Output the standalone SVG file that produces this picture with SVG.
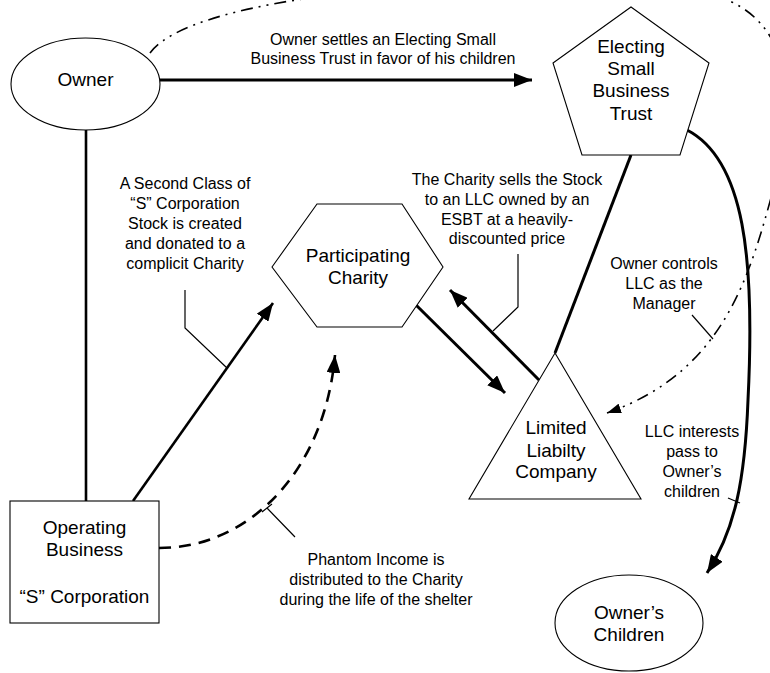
<svg xmlns="http://www.w3.org/2000/svg" width="770" height="673" viewBox="0 0 770 673">
<style>
.shape{fill:#fff;stroke:#000;stroke-width:1.1}
.node{font-family:"Liberation Sans",Arial,sans-serif;font-size:19px;fill:#000;text-anchor:middle}
.lbl{font-family:"Liberation Sans",Arial,sans-serif;font-size:16px;fill:#000;text-anchor:middle}
.thick{fill:none;stroke:#000;stroke-width:3}
.med{fill:none;stroke:#000;stroke-width:2.6}
.thin{fill:none;stroke:#000;stroke-width:1.2}
.dash{fill:none;stroke:#000;stroke-width:2.6;stroke-dasharray:12 8}
.dashdot{fill:none;stroke:#000;stroke-width:1.6;stroke-dasharray:12 6 2 6 2 6}
</style>
<defs>
<marker id="ah" markerUnits="userSpaceOnUse" markerWidth="20" markerHeight="14" refX="18" refY="7" orient="auto">
<path d="M0,0 L18,7 L0,14 z" fill="#000"/>
</marker>
<marker id="ahs" markerUnits="userSpaceOnUse" markerWidth="16" markerHeight="10" refX="14" refY="5" orient="auto">
<path d="M0,0 L14,5 L0,10 z" fill="#000"/>
</marker>
</defs>
<rect width="770" height="673" fill="#fff"/>
<g id="connectors">
<path class="thick" d="M160,80 L532,80" marker-end="url(#ah)"/>
<path class="med" d="M86,130 L86,501"/>
<path class="med" d="M133,501 L273,303" marker-end="url(#ah)"/>
<path class="dash" d="M159,548 C250,548 325,470 335,355" marker-end="url(#ah)"/>
<path class="thick" d="M416,305 L505,393" marker-end="url(#ah)"/>
<path class="thick" d="M539,380 L450,290" marker-end="url(#ah)"/>
<path class="thick" d="M631,155 L555,353"/>
<path class="thick" d="M687,130 C745,160 755,260 748,400 C745,480 735,530 707,573" marker-end="url(#ah)"/>
<path class="dashdot" d="M150,53 C200,-15 560,-30 700,-8 C790,8 800,95 776,180 C752,265 730,370 607,413" marker-end="url(#ahs)"/>
<polyline class="thin" points="185,290 185,328 227,368"/>
<polyline class="thin" points="518,254 518,307 493,331"/>
<path class="thin" d="M267,508 L295,537 M262,512 L272,504"/>
<path class="thin" d="M692,315 L713,339"/>
<path class="thin" d="M728,498 L740,503"/>
</g>
<g id="owner">
<ellipse class="shape" cx="85.5" cy="84" rx="74.5" ry="46"/>
<text class="node" x="85.5" y="86">Owner</text>
</g>
<g id="esbt">
<polygon class="shape" points="631,7 709,63 680,155 582,155 553,63"/>
<text class="node" x="631" y="53">Electing</text>
<text class="node" x="631" y="75">Small</text>
<text class="node" x="631" y="97">Business</text>
<text class="node" x="631" y="120">Trust</text>
</g>
<g id="charity">
<polygon class="shape" points="272,267 317,204 402,204 443,267 402,327 317,327"/>
<text class="node" x="358" y="262">Participating</text>
<text class="node" x="358" y="284">Charity</text>
</g>
<g id="llc">
<polygon class="shape" points="555,353 641,499 469,499"/>
<text class="node" x="556" y="434">Limited</text>
<text class="node" x="556" y="457">Liabilty</text>
<text class="node" x="556" y="478">Company</text>
</g>
<g id="operating">
<rect class="shape" x="10" y="501" width="149" height="122"/>
<text class="node" x="84.5" y="534">Operating</text>
<text class="node" x="84.5" y="556">Business</text>
<text class="node" x="84.5" y="603">“S” Corporation</text>
</g>
<g id="children">
<ellipse class="shape" cx="629" cy="623" rx="74" ry="48"/>
<text class="node" x="629" y="619">Owner’s</text>
<text class="node" x="629" y="641">Children</text>
</g>
<g id="labels">
<text class="lbl" x="383" y="45">Owner settles an Electing Small</text>
<text class="lbl" x="383" y="64">Business Trust in favor of his children</text>
<text class="lbl" x="185" y="189">A Second Class of</text>
<text class="lbl" x="185" y="209">“S” Corporation</text>
<text class="lbl" x="185" y="229">Stock is created</text>
<text class="lbl" x="185" y="249">and donated to a</text>
<text class="lbl" x="185" y="269">complicit Charity</text>
<text class="lbl" x="507" y="185">The Charity sells the Stock</text>
<text class="lbl" x="507" y="205">to an LLC owned by an</text>
<text class="lbl" x="507" y="225">ESBT at a heavily-</text>
<text class="lbl" x="507" y="244">discounted price</text>
<text class="lbl" x="664" y="269">Owner controls</text>
<text class="lbl" x="664" y="289">LLC as the</text>
<text class="lbl" x="664" y="309">Manager</text>
<text class="lbl" x="692" y="437">LLC interests</text>
<text class="lbl" x="692" y="457">pass to</text>
<text class="lbl" x="692" y="477">Owner’s</text>
<text class="lbl" x="692" y="497">children</text>
<text class="lbl" x="376" y="565">Phantom Income is</text>
<text class="lbl" x="376" y="585">distributed to the Charity</text>
<text class="lbl" x="376" y="605">during the life of the shelter</text>
</g>
</svg>
